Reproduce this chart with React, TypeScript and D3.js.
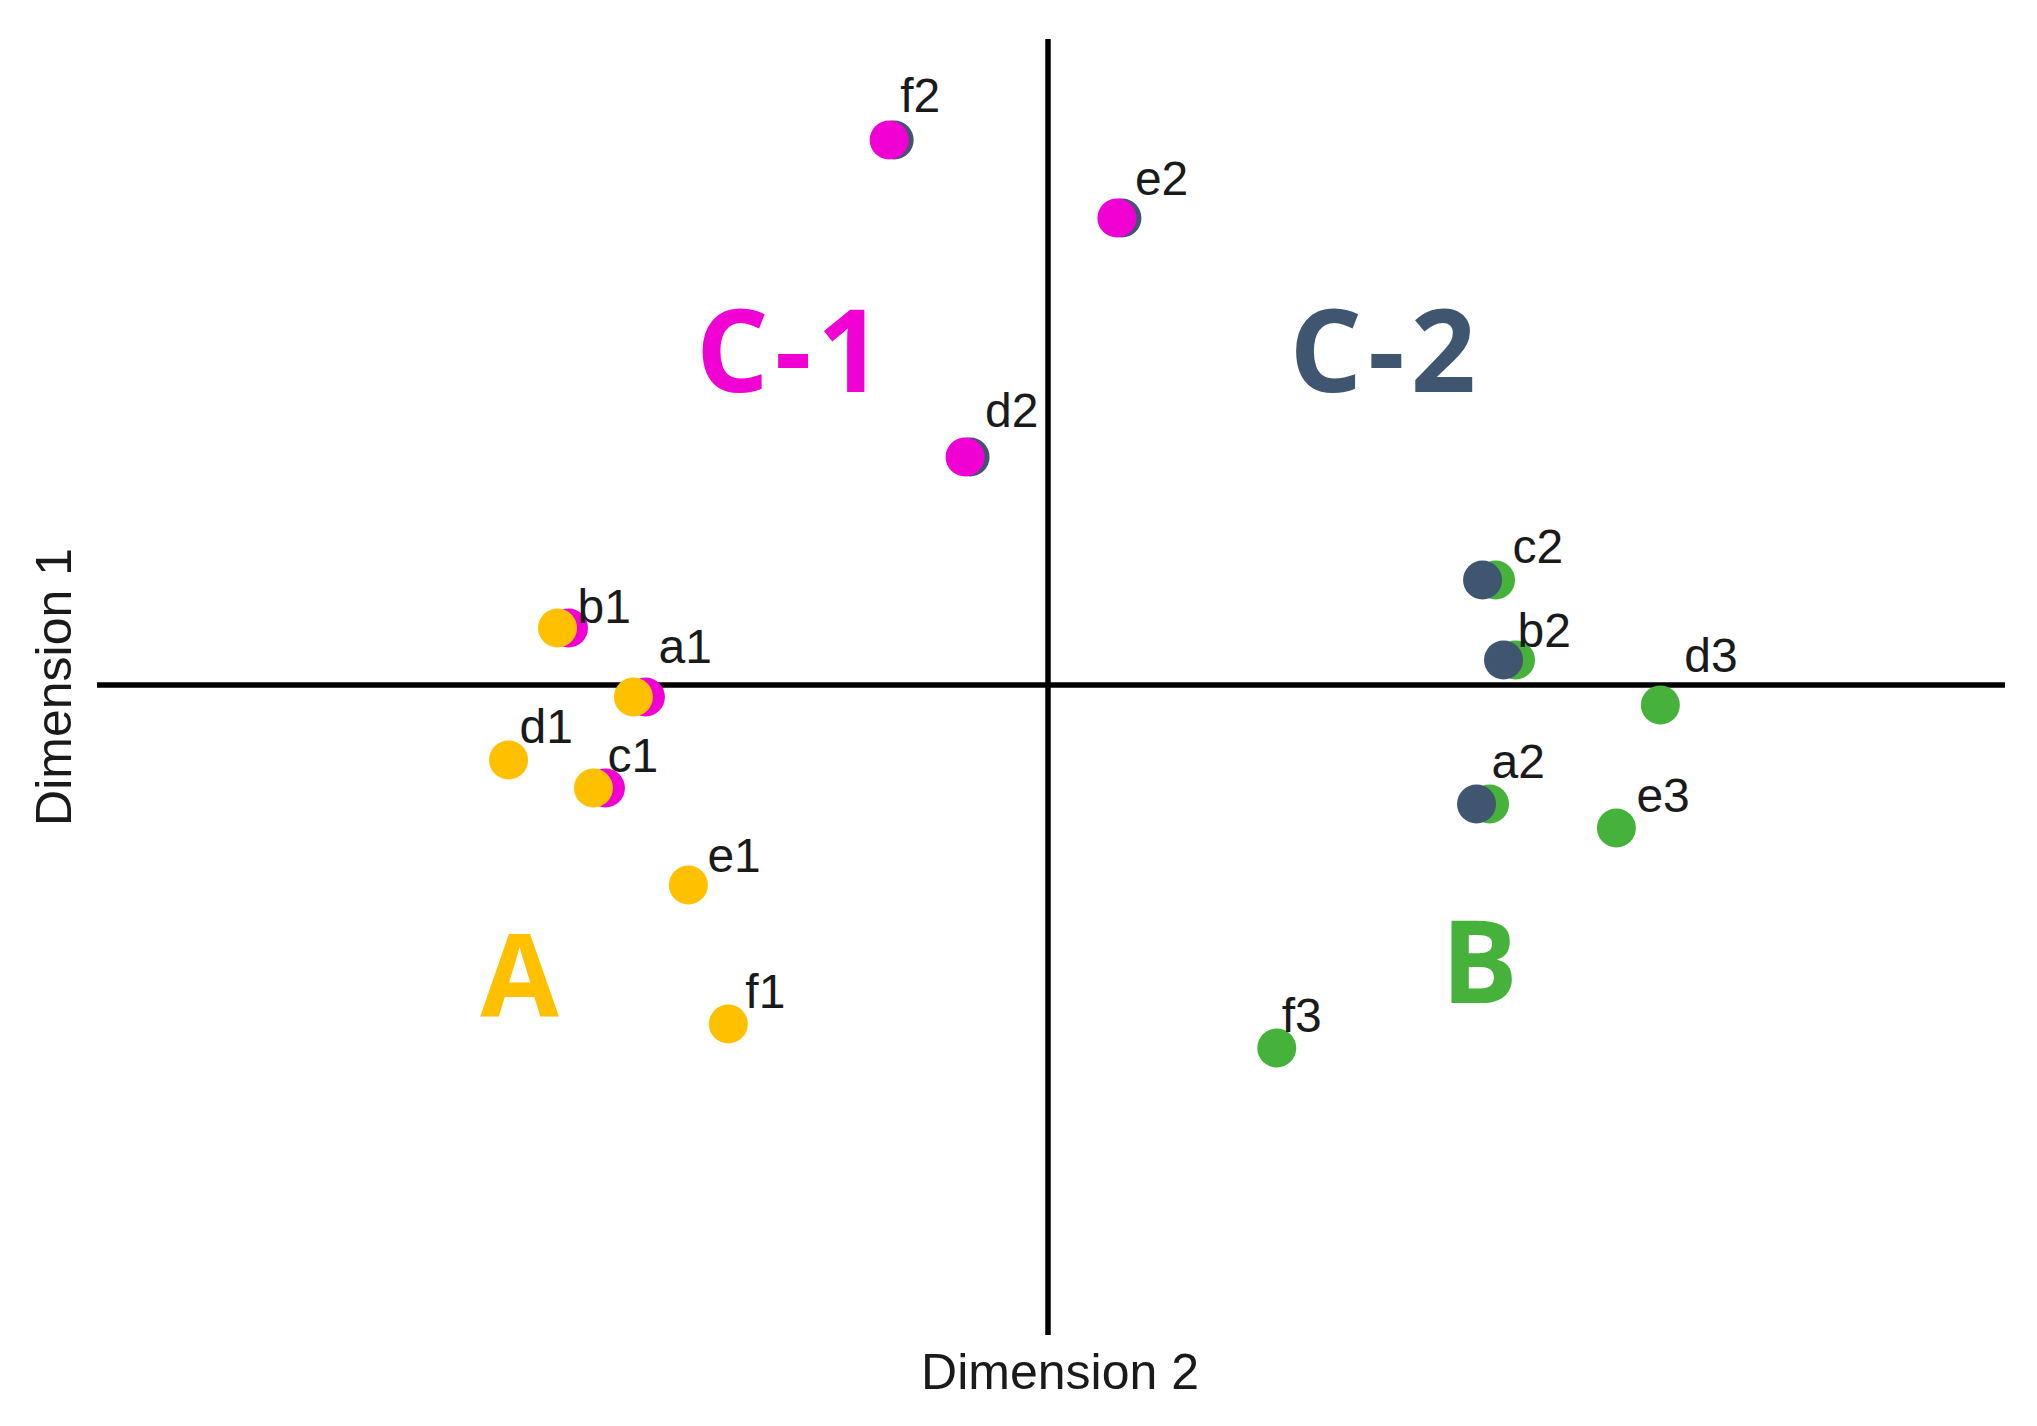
import React from "react";
import * as d3 from "d3";

// ---- data (Dimension 2 = x, Dimension 1 = y) ----
const groupNames = ["B", "C-2", "C-1", "A"];
const groupColors = ["#46B23C", "#405670", "#F000D2", "#FFC000"];

const bX = [0.442, 0.468, 0.448, 0.613, 0.569, 0.229];
const bY = [-0.119, 0.025, 0.105, -0.020, -0.143, -0.363];

const c2X = [0.429, 0.456, 0.435, -0.078, 0.074, -0.154];
const c2Y = [-0.119, 0.025, 0.105, 0.228, 0.467, 0.545];

const c1X = [-0.403, -0.480, -0.443, -0.083, 0.069, -0.159];
const c1Y = [-0.012, 0.057, -0.103, 0.228, 0.467, 0.545];

const aX = [-0.415, -0.491, -0.455, -0.540, -0.360, -0.320];
const aY = [-0.012, 0.057, -0.103, -0.075, -0.200, -0.339];

const seriesX = [bX, c2X, c1X, aX];
const seriesY = [bY, c2Y, c1Y, aY];

// labels: text, series index, point index
const pointLabels = ["a1", "b1", "c1", "d1", "e1", "f1", "d2", "e2", "f2", "a2", "b2", "c2", "d3", "e3", "f3"];
const labelSeries = [3, 3, 3, 3, 3, 3, 2, 2, 2, 1, 1, 1, 0, 0, 0];
const labelPoint = [0, 1, 2, 3, 4, 5, 3, 4, 5, 0, 1, 2, 3, 4, 5];
// label offsets (px) from point
const labelDx = [25, 20, 14, 11, 19, 17, 20, 18, 11, 15, 14, 30, 24, 20, 5];
const labelDy = [-34, -5, -16, -17, -13, -16, -30, -23, -28, -26, -13, -17, -33, -16, -16];

// group annotations
const groupLabelX = [0.435, 0.338, -0.256, -0.526];
const groupLabelY = [-0.318, 0.293, 0.293, -0.332];

const xDomain = [-0.952, 0.958];
const yDomain = [-0.65, 0.646];

export default function App() {
  const W = 2037;
  const H = 1426;
  const x = d3.scaleLinear().domain(xDomain).range([97, 2005]);
  const y = d3.scaleLinear().domain(yDomain).range([1335, 39]);
  const r = 19.5;
  const font = "'Liberation Sans', Arial, sans-serif";

  return (
    <svg
      width={W}
      height={H}
      style={{ position: "absolute", left: 0, top: 0, background: "#fff" }}
    >
      <rect width={W} height={H} fill="#fff" />
      {/* axes */}
      <line x1={x(xDomain[0])} x2={x(xDomain[1])} y1={y(0)} y2={y(0)} stroke="#000" strokeWidth={5.5} />
      <line x1={x(0)} x2={x(0)} y1={y(yDomain[0])} y2={y(yDomain[1])} stroke="#000" strokeWidth={5.5} />

      {/* points */}
      {seriesX.map((xs, si) => (
        <g key={groupNames[si]}>
          {xs.map((v, i) => (
            <circle key={i} cx={x(v)} cy={y(seriesY[si][i])} r={r} fill={groupColors[si]} />
          ))}
        </g>
      ))}

      {/* point labels */}
      {pointLabels.map((t, i) => (
        <text
          key={t}
          x={x(seriesX[labelSeries[i]][labelPoint[i]]) + labelDx[i]}
          y={y(seriesY[labelSeries[i]][labelPoint[i]]) + labelDy[i]}
          fontFamily={font}
          fontSize={48}
          fill="#1a1a1a"
        >
          {t}
        </text>
      ))}

      {/* group labels */}
      {groupNames.map((g, i) => (
        <text
          key={g}
          x={x(groupLabelX[i])}
          y={y(groupLabelY[i])}
          textAnchor="middle"
          fontFamily="'Open Sans', sans-serif"
          fontWeight={700}
          fontSize={114}
          letterSpacing={6}
          fill={groupColors[i]}
        >
          {g}
        </text>
      ))}

      {/* axis titles */}
      <text x={1060} y={1389} textAnchor="middle" fontFamily={font} fontSize={50} fill="#1a1a1a">
        Dimension 2
      </text>
      <text
        transform={`translate(71, ${y(0) + 2}) rotate(-90)`}
        textAnchor="middle"
        fontFamily={font}
        fontSize={50}
        fill="#1a1a1a"
      >
        Dimension 1
      </text>
    </svg>
  );
}
